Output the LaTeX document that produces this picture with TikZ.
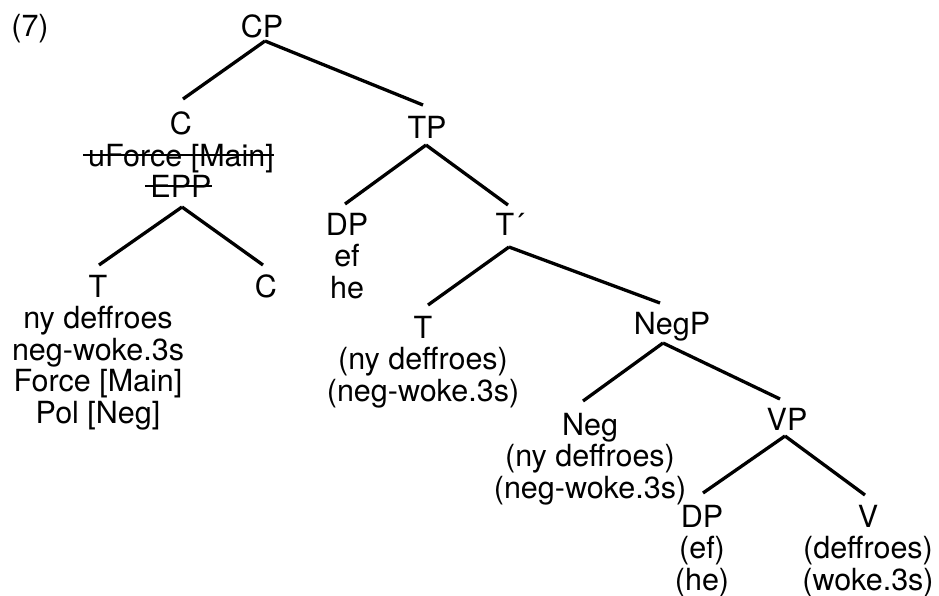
\documentclass[tikz,border=0pt]{standalone}
\usepackage{fontspec}
\setmainfont{TeX Gyre Heros}
\usetikzlibrary{calc}
\newsavebox\strkbox
\newcommand\strk[1]{\sbox\strkbox{#1}\makebox[0pt][l]{\hspace*{-5pt}\rule[0.34em]{\dimexpr\wd\strkbox+5pt\relax}{2.2pt}}\usebox\strkbox}
\newcommand\br[6]{\draw[edge] ($(#1.north)+(#2,#3)$) -- ($(#4.north)+(#5,#6)$);}
\begin{document}
\begin{tikzpicture}[x=1pt,y=-1pt,
  every node/.style={inner sep=0pt, outer sep=0pt, anchor=north, align=center,
    font=\fontsize{30.5}{31.5}\selectfont},
  edge/.style={line width=3.3pt}]
\useasboundingbox[fill=white] (0,0) rectangle (939,595);
\node (ex) at (30,14) {(7)};
\node (CP) at (262,15) {CP};
\node (C) at (181,112) {C\\\strk{uForce [Main]}\\\strk{EPP}};
\node (TP) at (427,116) {TP};
\node (Tl) at (98,275) {T\\ny deffroes\\neg-woke.3s\\Force [Main]\\Pol [Neg]};
\node (Cl) at (266,275) {C};
\node (DPa) at (347,213) {DP\\ef\\he};
\node (Tbar) at (510,213) {T´};
\node (Tm) at (423,316) {T\\(ny deffroes)\\(neg-woke.3s)};
\node (NegP) at (672,312) {NegP};
\node (Neg) at (590,413) {Neg\\(ny deffroes)\\(neg-woke.3s)};
\node (VP) at (787,408) {VP};
\node (DPb) at (702,505) {DP\\(ef)\\(he)};
\node (V) at (868,505) {V\\(deffroes)\\(woke.3s)};
\br{CP}{3}{26}{C}{2}{-13}
\br{CP}{3}{26}{TP}{-4}{-11}
\br{C}{1}{95}{Tl}{1}{-10}
\br{C}{1}{95}{Cl}{-3}{-10}
\br{TP}{-1}{29}{DPa}{-2}{-9}
\br{TP}{-1}{29}{Tbar}{-2}{-8}
\br{Tbar}{-1}{34}{Tm}{5}{-11}
\br{Tbar}{-1}{34}{NegP}{-12}{-9}
\br{NegP}{-9}{31}{Neg}{-7}{-12}
\br{NegP}{-9}{31}{VP}{-7}{-9}
\br{VP}{-2}{28}{DPb}{1}{-12}
\br{VP}{-2}{28}{V}{-3}{-10}
\end{tikzpicture}
\end{document}
